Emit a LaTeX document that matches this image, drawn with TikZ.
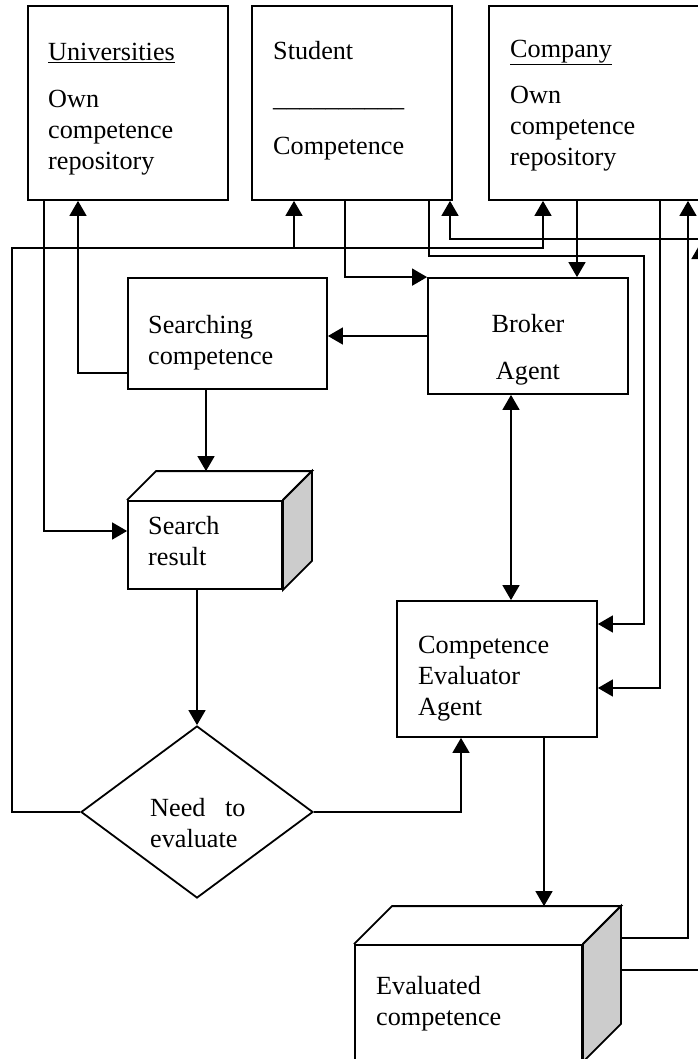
\documentclass[tikz,border=0pt]{standalone}
\usepackage{fontspec}
\setmainfont{Liberation Serif}
\usetikzlibrary{calc,arrows.meta,shapes.geometric}

\definecolor{sidegray}{gray}{0.8}

\begin{document}
\begin{tikzpicture}[
		x=1pt, y=-1pt,
		>={Triangle[length=15pt,width=17pt]},
		box/.style={draw, line width=1.8pt, inner sep=0pt},
		link/.style={line width=1.6pt},
		every node/.style={color=black, font=\fontsize{26.2}{31}\selectfont},
		]
		\tikzset{
			leftText/.style={anchor=north west, align=left, inner sep=0pt},
			midText/.style={anchor=north, align=center, inner sep=0pt},
		}
		\useasboundingbox (0,0) rectangle (697,1059);
		
		% repositories
		\node[box, minimum width=200, minimum height=194] (univ) at (128,103) {};
		\node[box, minimum width=200, minimum height=194] (student) at (352,103) {};
		\node[box, minimum width=230, minimum height=194] (company) at (604,103) {};
		
		% agents and stores
		\node[box, minimum width=199, minimum height=111] (search) at (227.5,333.5) {};
		\node[box, minimum width=200, minimum height=116] (broker) at (528,336) {};
		\node[box, minimum width=154, minimum height=88] (result) at (205,545) {};
		\node[box, diamond, minimum width=232, minimum height=172] (need) at (197,812) {};
		\node[box, minimum width=200, minimum height=136] (eval) at (497,669) {};
		\node[box, minimum width=227, minimum height=116] (evald) at (468.5,1003) {};
		
		% top and shaded side of the two stores
		\foreach \cube/\deep in {result/29, evald/38}{
			\draw[box] (\cube.north west) -- ++(\deep,-\deep) coordinate (top-\cube)
			-- ($(\cube.north east)+(\deep,-\deep)$) coordinate (corner-\cube) -- (\cube.north east);
			\draw[box, fill=sidegray] (\cube.north east) -- (corner-\cube)
			-- ($(\cube.south east)+(\deep,-\deep)$) -- (\cube.south east) -- cycle;
		}
		
		\node[leftText] (univText) at (48,43) {\underline{Universities}\\[16pt]Own\\competence\\repository};
		\node[leftText] (studentText) at (273,41) {Student\\[16pt]\_\_\_\_\_\_\_\_\_\_\\[17pt]Competence};
		\node[leftText] (companyText) at (510,40) {\underline{Company}\\[15pt]Own\\competence\\repository};
		\node[leftText] (searchText) at (148,315) {Searching\\competence};
		\node[midText] (brokerText) at (528,314) {Broker\\[16pt]Agent};
		\node[leftText] (resultText) at (148,516) {Search\\result};
		\node[leftText] (needText) at (150,798) {Need~~~to\\evaluate};
		\node[leftText] (evalText) at (418,636) {Competence\\Evaluator\\Agent};
		\node[leftText] (evaldText) at (376,976) {Evaluated\\competence};
		
		% out of the repositories
		\draw[link,->] (univ.south -| 44,0) |- (result.west |- 0,531);
		\draw[link,->] (search.west |- 0,373) -| (univ.south -| 78,0);
		\draw[link,->] (student.south -| 345,0) |- (broker.north west);
		\draw[link,->] (student.south -| 429,0) |- (644,256) |- (eval.east |- 0,624);
		\draw[link,->] (company.south -| 577,0) -- (broker.north -| 577,0);
		\draw[link,->] (company.south -| 660,0) |- (eval.east |- 0,688);
		
		% search and evaluation
		\draw[link,->] (broker.west) -- (broker.west -| search.east);
		\draw[link,->] (search.south -| 206,0) -- (top-result -| 206,0);
		\draw[link,->] (result.south -| 197,0) -- (need.north);
		\draw[link,<->] (broker.south -| 511,0) -- (eval.north -| 511,0);
		\draw[link,->] (need.east) -| (eval.south -| 461,0);
		\draw[link,->] (eval.south -| 544,0) -- (top-evald -| 544,0);
		
		% back up to the repositories
		\draw[link,->] (need.west) -| (12,248) coordinate (loop) -| (company.south -| 543,0);
		\draw[link,->] (294,248) -- (student.south -| 294,0);
		\draw[link,->] ([shift={(38,-6)}]evald.north east) -| (company.south -| 688,0);
		\draw[link,->] ([shift={(38,26)}]evald.north east) -| (700,244);
		\draw[link,->] (700,239) -| (student.south -| 450,0);
	\end{tikzpicture}
\end{document}
